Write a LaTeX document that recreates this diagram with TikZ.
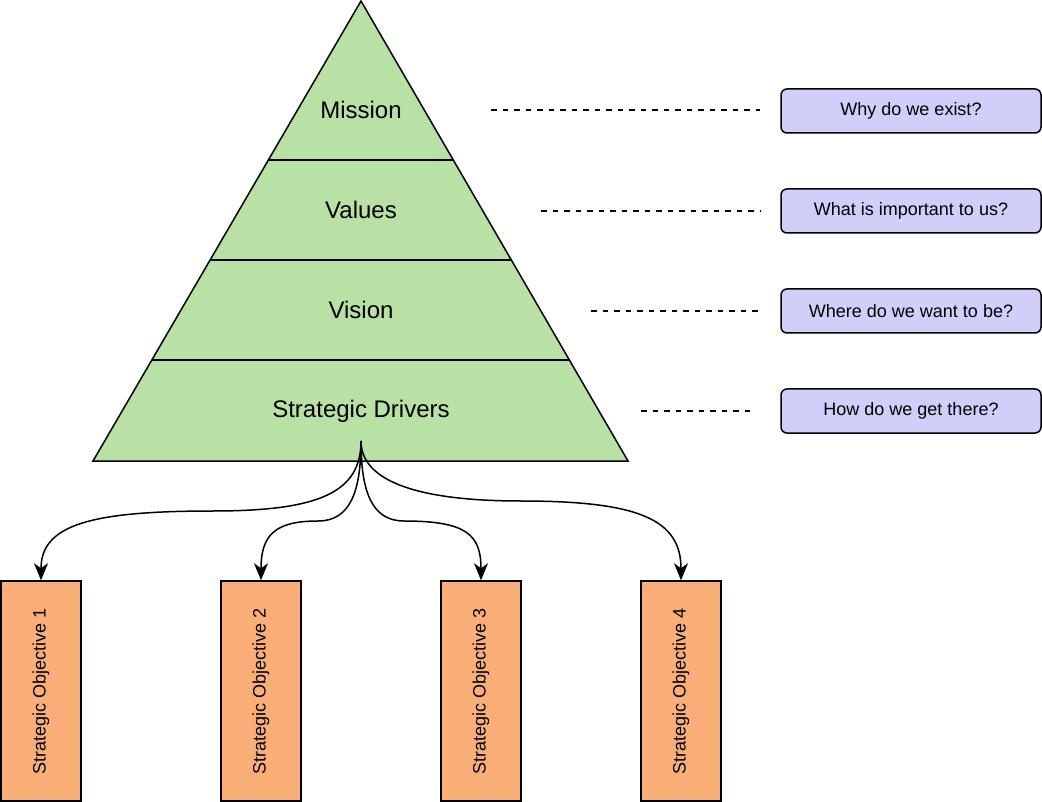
\documentclass[tikz,border=0pt]{standalone}
\usepackage{fontspec}
\setmainfont{Liberation Sans}
\usetikzlibrary{positioning,calc,arrows.meta}
\definecolor{layerGreen}{HTML}{B9E0A5}
\definecolor{questionBlue}{HTML}{CFCFFA}
\definecolor{objOrange}{HTML}{F9AE78}
\tikzstyle{layerLabel} = [font=\fontsize{24}{28}\selectfont, inner sep=0pt]
\tikzstyle{question} = [rectangle, draw, fill=questionBlue, rounded corners=6pt,
    line width=1.5pt, minimum width=260pt, minimum height=44pt, inner sep=0pt,
    font=\fontsize{18}{22}\selectfont]
\tikzstyle{objective} = [rectangle, draw, fill=objOrange, line width=1.5pt,
    minimum width=80pt, minimum height=220pt, inner sep=0pt,
    font=\fontsize{18}{22}\selectfont]
\tikzstyle{guide} = [draw, line width=1.5pt, dash pattern=on 5.5pt off 6pt]
\tikzstyle{branch} = [draw, line width=1.5pt, -{Stealth[length=17pt,width=14pt,inset=5pt]}]

\begin{document}
\begin{tikzpicture}[x=1pt, y=-1pt]
    \useasboundingbox (0,0) rectangle (1042,802);
    % Pyramid
    \coordinate (apex) at (361,1);
    \coordinate (baseL) at (93,461);
    \coordinate (baseR) at (628,461);
    \draw[fill=layerGreen, line width=1.5pt, line join=miter] (apex) -- (baseR) -- (baseL) -- cycle;
    \draw[line width=1.5pt] ($(apex)!0.3457!(baseL)$) -- ($(apex)!0.3457!(baseR)$);
    \draw[line width=1.5pt] ($(apex)!0.5630!(baseL)$) -- ($(apex)!0.5630!(baseR)$);
    \draw[line width=1.5pt] ($(apex)!0.7804!(baseL)$) -- ($(apex)!0.7804!(baseR)$);

    % Place nodes
    \node[layerLabel] (mission) at (361,110) {Mission};
    \node[layerLabel] (values) at (361,210) {Values};
    \node[layerLabel] (vision) at (361,310) {Vision};
    \node[layerLabel] (drivers) at (361,411) {Strategic Drivers};

    \node[question] (why) at (911,111) {Why do we exist?};
    \node[question, below=54.5pt of why] (important) {What is important to us?};
    \node[question, below=54.5pt of important] (where) {Where do we want to be?};
    \node[question, below=54.5pt of where] (how) {How do we get there?};

    \node[objective] (obj1) at (41,691) {\rotatebox{90}{Strategic Objective 1}};
    \node[objective, right=138.5pt of obj1] (obj2) {\rotatebox{90}{Strategic Objective 2}};
    \node[objective, right=138.5pt of obj2] (obj3) {\rotatebox{90}{Strategic Objective 3}};
    \node[objective, right=118.5pt of obj3] (obj4) {\rotatebox{90}{Strategic Objective 4}};

    % Dashed guides
    \coordinate (g1) at (491,110);
    \coordinate (g2) at (541,211);
    \coordinate (g3) at (591,311);
    \coordinate (g4) at (641,411);
    \path[guide] (g1) -- ([xshift=-20pt]why.west |- g1);
    \path[guide] (g2) -- ([xshift=-20pt]important.west |- g2);
    \path[guide] (g3) -- ([xshift=-20pt]where.west |- g3);
    \path[guide] (g4) -- ([xshift=-26pt]how.west |- g4);

    % Branches
    \coordinate (root) at (361,441);
    \path[branch] (root) .. controls (361,492) and (320,511) .. (213,511)
        .. controls (90,511) and (41,525) .. (obj1.north);
    \path[branch] (root) .. controls (361,492) and (350,521) .. (318,521)
        .. controls (275,521) and (261,535) .. (obj2.north);
    \path[branch] (root) .. controls (361,492) and (372,521) .. (404,521)
        .. controls (467,521) and (481,535) .. (obj3.north);
    \path[branch] (root) .. controls (361,482) and (420,501) .. (521,501)
        .. controls (640,501) and (681,520) .. (obj4.north);
\end{tikzpicture}
\end{document}
